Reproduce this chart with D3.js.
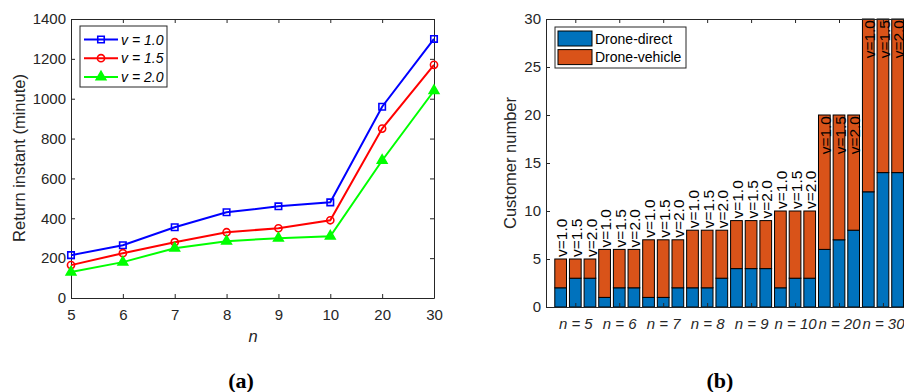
<!DOCTYPE html>
<html>
<head>
<meta charset="utf-8">
<script src="https://cdn.jsdelivr.net/npm/d3@7"></script>
<style>
body { margin: 0; background: #fff; }
svg { display: block; font-family: 'Liberation Sans', Arial, sans-serif; }
.axis path, .axis line { stroke: #262626; }
.axis text { fill: #262626; font-size: 15px; font-family: 'Liberation Sans', Arial, sans-serif; }
</style>
</head>
<body>
<svg id="chart" width="904" height="392"></svg>
<script>
// panel (a): return instant vs n
const nLabels = ['5', '6', '7', '8', '9', '10', '20', '30'];
const speedNames = ['v = 1.0', 'v = 1.5', 'v = 2.0'];
const returnV10 = [215, 265, 355, 430, 460, 480, 960, 1300];
const returnV15 = [165, 225, 280, 330, 350, 390, 850, 1170];
const returnV20 = [130, 180, 250, 285, 300, 310, 690, 1040];
const returnTicks = [0, 200, 400, 600, 800, 1000, 1200, 1400];

// panel (b): customers per bar (3 speeds for each n)
const barNames = ['v=1.0', 'v=1.5', 'v=2.0'];
const directCount = [2, 3, 3, 1, 2, 2, 1, 1, 2, 2, 2, 3, 4, 4, 4, 2, 3, 3, 6, 7, 8, 12, 14, 14];
const vehicleCount = [3, 2, 2, 5, 4, 4, 6, 6, 5, 6, 6, 5, 5, 5, 5, 8, 7, 7, 14, 13, 12, 18, 16, 16];
const customerTicks = [0, 5, 10, 15, 20, 25, 30];
const stackNames = ['Drone-direct', 'Drone-vehicle'];

const svg = d3.select('#chart');
const axisColor = '#262626';

// ---------- (a) ----------
const xA = d3.scalePoint().domain(nLabels).range([71, 434]);
const yA = d3.scaleLinear().domain([0, 1400]).range([298, 19]);

const gA = svg.append('g');
gA.append('g').attr('class', 'axis').attr('transform', 'translate(0,298)')
    .call(d3.axisBottom(xA).tickSizeInner(-4).tickSizeOuter(0).tickPadding(11));
gA.append('g').attr('class', 'axis').attr('transform', 'translate(0,19)')
    .call(d3.axisTop(xA).tickSizeInner(-4).tickSizeOuter(0).tickFormat(''));
gA.append('g').attr('class', 'axis').attr('transform', 'translate(71,0)')
    .call(d3.axisLeft(yA).tickValues(returnTicks).tickFormat(d3.format('d'))
        .tickSizeInner(-4).tickSizeOuter(0).tickPadding(5));
gA.append('g').attr('class', 'axis').attr('transform', 'translate(434,0)')
    .call(d3.axisRight(yA).tickValues(returnTicks).tickSizeInner(-4).tickSizeOuter(0).tickFormat(''));

const seriesA = [
    { name: speedNames[0], values: returnV10, color: '#0000ff', symbol: d3.symbolSquare, size: 42 },
    { name: speedNames[1], values: returnV15, color: '#ff0000', symbol: d3.symbolCircle, size: 40 },
    { name: speedNames[2], values: returnV20, color: '#00ff00', symbol: d3.symbolTriangle, size: 40 },
];
const line = d3.line().x((d, i) => xA(nLabels[i])).y(d => yA(d));

seriesA.forEach(s => {
    gA.append('path').attr('d', line(s.values))
        .attr('fill', 'none').attr('stroke', s.color).attr('stroke-width', 2);
    gA.selectAll(null).data(s.values).enter().append('path')
        .attr('d', d3.symbol().type(s.symbol).size(s.size))
        .attr('transform', (d, i) => `translate(${xA(nLabels[i])},${yA(d)})`)
        .attr('fill', s.symbol === d3.symbolTriangle ? s.color : 'none')
        .attr('stroke', s.color).attr('stroke-width', 1.6);
});

// legend (a)
const legA = gA.append('g');
legA.append('rect').attr('x', 80).attr('y', 26).attr('width', 87).attr('height', 61)
    .attr('fill', '#fff').attr('stroke', axisColor).attr('stroke-width', 1);
seriesA.forEach((s, i) => {
    const y = 39.5 + i * 18.7;
    legA.append('line').attr('x1', 84).attr('x2', 118).attr('y1', y).attr('y2', y)
        .attr('stroke', s.color).attr('stroke-width', 2);
    legA.append('path').attr('d', d3.symbol().type(s.symbol).size(s.size))
        .attr('transform', `translate(101,${y})`)
        .attr('fill', s.symbol === d3.symbolTriangle ? s.color : 'none')
        .attr('stroke', s.color).attr('stroke-width', 1.6);
    legA.append('text').attr('x', 121).attr('y', y).attr('dy', '0.36em')
        .attr('font-size', 14).attr('font-style', 'italic').attr('fill', '#000')
        .text(s.name);
});

gA.append('text').attr('transform', 'translate(19,158) rotate(-90)')
    .attr('text-anchor', 'middle').attr('dy', '0.36em').attr('font-size', 16.5).attr('fill', axisColor)
    .text('Return instant (minute)');
gA.append('text').attr('x', 253).attr('y', 342).attr('text-anchor', 'middle')
    .attr('font-size', 16.5).attr('font-style', 'italic').attr('fill', axisColor).text('n');

// ---------- (b) ----------
const xB = d3.scaleLinear().domain([0, 25]).range([546, 912.25]);
const yB = d3.scaleLinear().domain([0, 30]).range([307, 19]);
const groupTicks = nLabels.map((d, k) => 2 + 3 * k);

const gB = svg.append('g');
const rows = directCount.map((d, i) => ({ idx: i + 1, 'Drone-direct': d, 'Drone-vehicle': vehicleCount[i] }));
const stacked = d3.stack().keys(stackNames)(rows);
const barColors = d3.scaleOrdinal().domain(stackNames).range(['#0072bd', '#d95319']);
const barW = xB(0.8) - xB(0);

gB.selectAll('g.layer').data(stacked).enter().append('g')
    .attr('fill', d => barColors(d.key))
    .selectAll('rect').data(d => d).enter().append('rect')
    .attr('x', d => xB(d.data.idx) - barW / 2)
    .attr('y', d => yB(d[1]))
    .attr('width', barW)
    .attr('height', d => yB(d[0]) - yB(d[1]))
    .attr('stroke', '#000').attr('stroke-width', 1);

gB.append('g').attr('class', 'axis').attr('transform', 'translate(0,307)')
    .call(d3.axisBottom(xB).tickValues(groupTicks).tickSizeInner(-4).tickSizeOuter(0).tickPadding(11)
        .tickFormat((d, k) => 'n = ' + nLabels[k]))
    .selectAll('text').attr('font-style', 'italic');
gB.append('g').attr('class', 'axis').attr('transform', 'translate(0,19)')
    .call(d3.axisTop(xB).tickValues(groupTicks).tickSizeInner(-4).tickSizeOuter(0).tickFormat(''));
gB.append('g').attr('class', 'axis').attr('transform', 'translate(546,0)')
    .call(d3.axisLeft(yB).tickValues(customerTicks).tickSizeInner(-4).tickSizeOuter(0).tickPadding(5));

// speed labels on bars
rows.forEach((r, i) => {
    const total = r['Drone-direct'] + r['Drone-vehicle'];
    const inside = total > 15;
    const y = inside ? yB(total) + 1 : yB(total) - 2;
    gB.append('text')
        .attr('transform', `translate(${xB(r.idx) + 1},${y}) rotate(-90)`)
        .attr('text-anchor', inside ? 'end' : 'start')
        .attr('dy', '0.36em')
        .attr('font-size', 15.5).attr('fill', '#000')
        .text(barNames[i % 3]);
});

// legend (b)
const legB = gB.append('g');
legB.append('rect').attr('x', 555).attr('y', 27).attr('width', 131).attr('height', 41)
    .attr('fill', '#fff').attr('stroke', axisColor).attr('stroke-width', 1);
stackNames.forEach((k, i) => {
    const y = 31 + i * 18.6;
    legB.append('rect').attr('x', 558).attr('y', y).attr('width', 34).attr('height', 15)
        .attr('fill', barColors(k)).attr('stroke', '#000').attr('stroke-width', 1);
    legB.append('text').attr('x', 595).attr('y', y + 7.5).attr('dy', '0.36em')
        .attr('font-size', 14).attr('fill', '#000').text(k);
});

gB.append('text').attr('transform', 'translate(510,163) rotate(-90)')
    .attr('text-anchor', 'middle').attr('dy', '0.36em').attr('font-size', 16.5).attr('fill', axisColor)
    .text('Customer number');

// captions
svg.append('text').attr('x', 241).attr('y', 388).attr('text-anchor', 'middle')
    .attr('font-family', "'Liberation Serif', serif").attr('font-weight', 'bold')
    .attr('font-size', 22).attr('fill', '#000').text('(a)');
svg.append('text').attr('x', 720).attr('y', 388).attr('text-anchor', 'middle')
    .attr('font-family', "'Liberation Serif', serif").attr('font-weight', 'bold')
    .attr('font-size', 22).attr('fill', '#000').text('(b)');
</script>
</body>
</html>
